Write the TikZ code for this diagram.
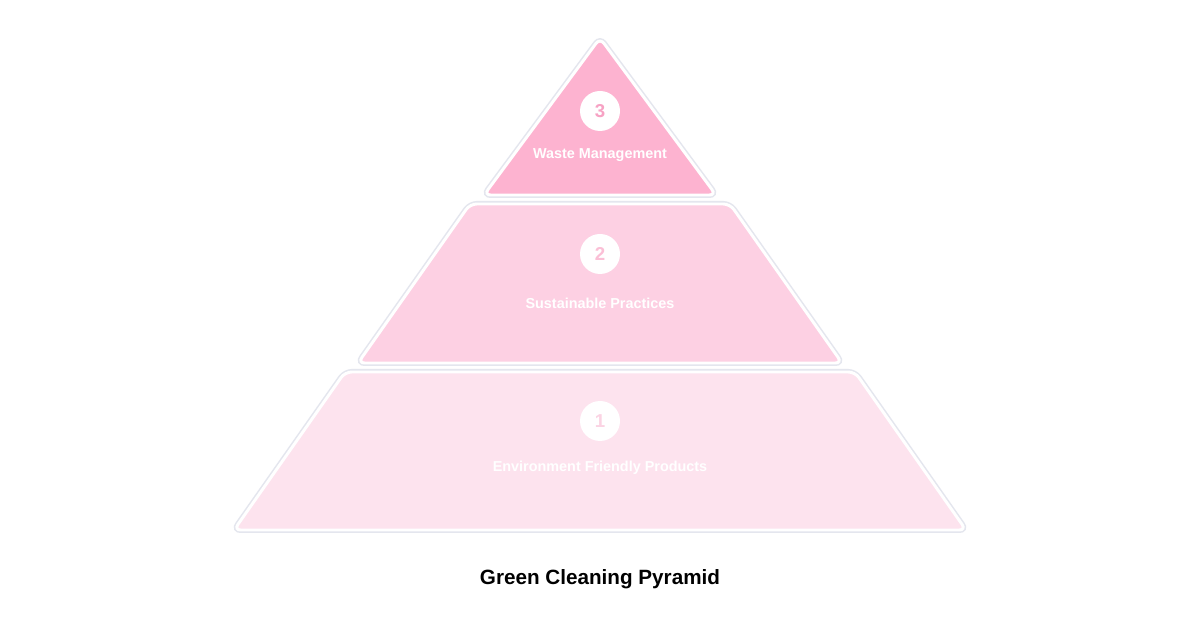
\documentclass[tikz,border=0pt]{standalone}
\usepackage{fontspec}
\setmainfont{Liberation Sans}
\definecolor{c3}{HTML}{FDB3D0}
\definecolor{c2}{HTML}{FDD0E3}
\definecolor{c1}{HTML}{FDE3EE}
\definecolor{n3}{HTML}{F7A2C4}
\definecolor{n2}{HTML}{FBBFD6}
\definecolor{n1}{HTML}{FBD3E3}
\definecolor{glow}{HTML}{E4E6EE}
\begin{document}
\begin{tikzpicture}[x=0.75pt,y=-0.75pt,
 halo/.style={draw=glow,line width=4.5pt,rounded corners=5pt},
 tier/.style={draw=white,line width=2.2pt,rounded corners=5pt},
 num/.style={circle,fill=white,minimum size=30pt,inner sep=0pt,font=\bfseries\fontsize{14}{14}\selectfont},
 lab/.style={text=white,font=\bfseries\fontsize{10.8}{12}\selectfont}]
\path[use as bounding box,fill=white] (0,0) rectangle (1200,630);
\path[halo] (345,372) -- (855,372) -- (966,530) -- (234,530) -- cycle;
\path[tier,fill=c1] (345,372) -- (855,372) -- (966,530) -- (234,530) -- cycle;
\path[halo] (470,204) -- (730,204) -- (842,363) -- (358,363) -- cycle;
\path[tier,fill=c2] (470,204) -- (730,204) -- (842,363) -- (358,363) -- cycle;
\path[halo] (600,38) -- (716,195) -- (484,195) -- cycle;
\path[tier,fill=c3] (600,38) -- (716,195) -- (484,195) -- cycle;
\node[num,text=n3] (k3) at (600,111) {3};
\node[num,text=n2] (k2) at (600,254) {2};
\node[num,text=n1] (k1) at (600,421) {1};
\node[lab] (l3) at (600,155) {Waste Management};
\node[lab] (l2) at (600,303) {Sustainable Practices};
\node[lab] (l1) at (600,468) {Environment Friendly Products};
\node[font=\bfseries\fontsize{15.5}{18}\selectfont] (t) at (600,579) {Green Cleaning Pyramid};
\end{tikzpicture}
\end{document}
